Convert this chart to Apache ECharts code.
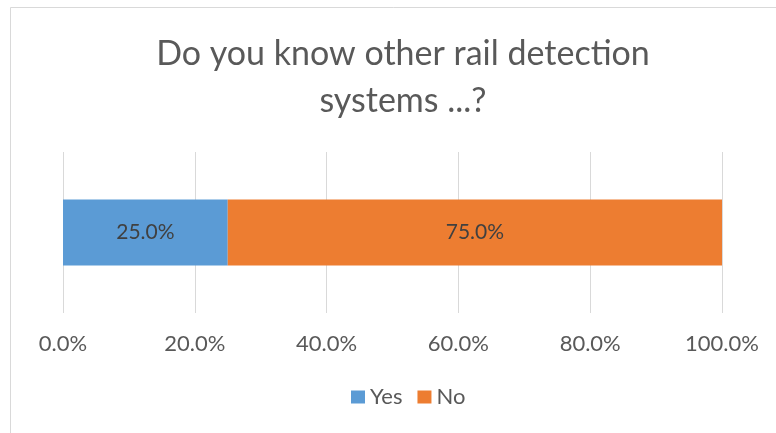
<!DOCTYPE html>
<html>
<head>
<meta charset="utf-8">
<script src="https://cdn.jsdelivr.net/npm/echarts@6/dist/echarts.min.js"></script>
<style>
  html, body { margin: 0; padding: 0; background: #fff; }
  #chart { width: 776px; height: 433px; }
</style>
</head>
<body>
<div id="chart"></div>
<script>
// Survey answers, as shares of respondents
const categories = ['Other rail detection systems'];
const yesShare = [0.25];
const noShare = [0.75];
const seriesNames = ['Yes', 'No'];
const tickValues = [0, 0.2, 0.4, 0.6, 0.8, 1.0];

const FONT = 'Lato, "Open Sans", sans-serif';
const TEXT = '#595959';
const pct = v => (v * 100).toFixed(1) + '%';

const chart = echarts.init(document.getElementById('chart'), null, { renderer: 'canvas' });

const barLabel = {
  show: true,
  position: 'inside',
  formatter: p => pct(p.value),
  fontFamily: FONT,
  fontSize: 21,
  color: '#404040'
};

chart.setOption({
  animation: false,
  backgroundColor: '#ffffff',
  graphic: [{
    type: 'rect',
    shape: { x: 10.5, y: 7.5, width: 800, height: 500 },
    style: { fill: 'none', stroke: '#d9d9d9', lineWidth: 1 },
    silent: true,
    z: -1
  }],
  title: {
    text: 'Do you know other rail detection\nsystems ...?',
    left: 398,
    textAlign: 'center',
    top: 26,
    textStyle: {
      fontFamily: FONT,
      fontWeight: 'normal',
      fontSize: 34,
      color: TEXT,
      lineHeight: 47
    }
  },
  legend: {
    top: 381,
    left: 346,
    itemWidth: 14,
    itemHeight: 13,
    itemGap: 15,
    icon: 'rect',
    textStyle: { fontFamily: FONT, fontSize: 22, color: TEXT },
    data: seriesNames
  },
  grid: { left: 63, right: 54, top: 152, bottom: 120, containLabel: false },
  xAxis: {
    type: 'value',
    min: 0,
    max: 1,
    interval: 0.2,
    axisLine: { show: false },
    axisTick: { show: false },
    splitLine: { show: true, lineStyle: { color: '#d9d9d9', width: 1 } },
    axisLabel: {
      margin: 20,
      fontFamily: FONT,
      fontSize: 22,
      color: TEXT,
      formatter: v => tickValues.some(t => Math.abs(t - v) < 1e-9) ? pct(v) : ''
    }
  },
  yAxis: {
    type: 'category',
    data: categories,
    show: false
  },
  series: [
    {
      name: seriesNames[0],
      type: 'bar',
      stack: 'total',
      data: yesShare,
      barWidth: 66,
      itemStyle: { color: '#5b9bd5' },
      label: barLabel
    },
    {
      name: seriesNames[1],
      type: 'bar',
      stack: 'total',
      data: noShare,
      barWidth: 66,
      itemStyle: { color: '#ed7d31' },
      label: barLabel
    }
  ]
});
</script>
</body>
</html>
